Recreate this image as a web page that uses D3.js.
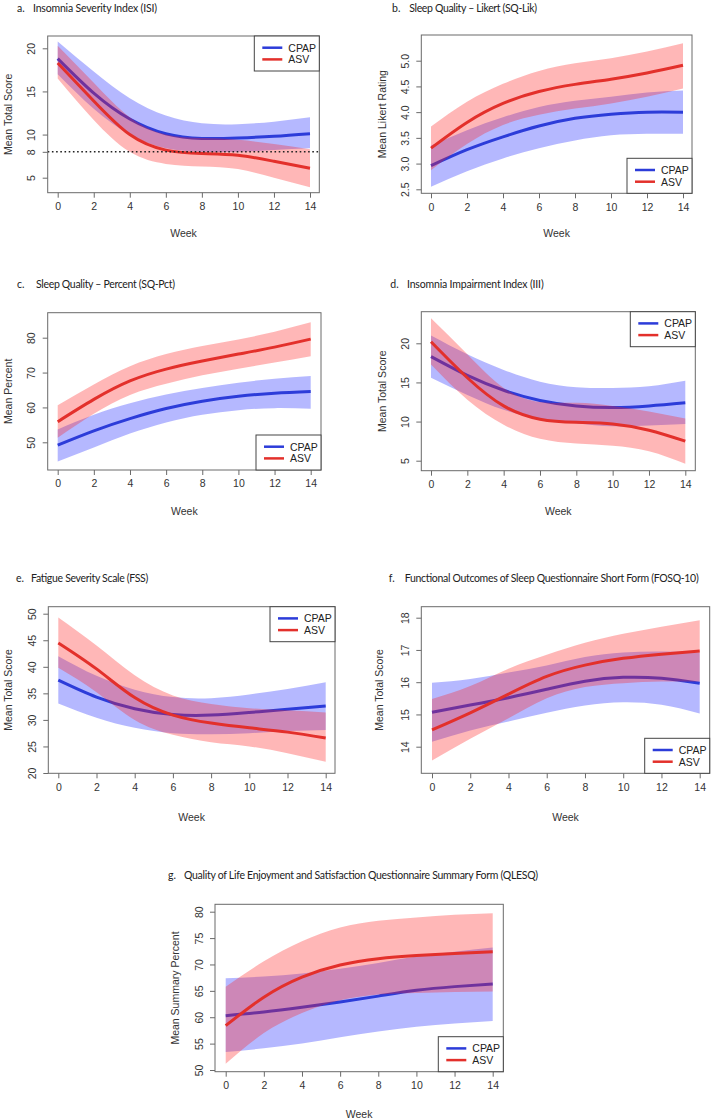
<!DOCTYPE html>
<html><head><meta charset="utf-8">
<script src="https://cdn.jsdelivr.net/npm/d3@7"></script>
<style>
body{margin:0;background:#fff;}
svg{display:block;}
</style></head>
<body>
<svg id="chart" width="714" height="1120"></svg>
<script>
// ---------------- DATA ----------------
const weeks = [0, 2, 4, 6, 8, 10, 12, 14];
const xTicks = [0, 2, 4, 6, 8, 10, 12, 14];
const seriesNames = ["CPAP", "ASV"];

// a. ISI
const isiCpap   = [18.8, 14.8, 11.8, 10.1, 9.55, 9.6, 9.8, 10.1];
const isiCpapLo = [17.0, 13.0, 10.0, 8.4, 8.0, 8.0, 8.2, 8.4];
const isiCpapHi = [20.8, 17.3, 14.2, 12.2, 11.3, 11.2, 11.5, 12.0];
const isiAsv    = [18.3, 13.9, 10.0, 8.2, 7.8, 7.6, 6.9, 6.1];
const isiAsvLo  = [16.5, 11.7, 8.0, 6.6, 6.3, 6.0, 5.0, 3.9];
const isiAsvHi  = [20.3, 16.0, 12.0, 10.0, 9.6, 9.4, 8.9, 8.3];
const isiTicks  = [5, 8, 10, 15, 20];
const isiCutoff = 8;

// b. SQ-Lik
const likCpap   = [2.96, 3.27, 3.52, 3.73, 3.88, 3.96, 4.0, 4.0];
const likCpapLo = [2.55, 2.85, 3.1, 3.3, 3.45, 3.55, 3.58, 3.58];
const likCpapHi = [3.35, 3.65, 3.9, 4.1, 4.22, 4.3, 4.38, 4.42];
const likAsv    = [3.3, 3.8, 4.17, 4.4, 4.54, 4.64, 4.76, 4.91];
const likAsvLo  = [2.87, 3.38, 3.75, 3.95, 4.07, 4.17, 4.3, 4.46];
const likAsvHi  = [3.72, 4.2, 4.55, 4.8, 4.95, 5.05, 5.18, 5.34];
const likTicks  = [2.5, 3.0, 3.5, 4.0, 4.5, 5.0];

// c. SQ-Pct
const pctCpap   = [49.2, 53.3, 56.8, 59.7, 61.8, 63.2, 64.1, 64.6];
const pctCpapLo = [44.5, 48.5, 52.5, 55.7, 57.9, 59.2, 59.8, 59.6];
const pctCpapHi = [53.7, 57.9, 61.2, 63.7, 65.6, 67.1, 68.2, 69.0];
const pctAsv    = [55.9, 62.3, 67.6, 71.0, 73.3, 75.3, 77.3, 79.6];
const pctAsvLo  = [51.3, 58.2, 63.6, 66.8, 69.2, 71.1, 72.9, 74.7];
const pctAsvHi  = [60.6, 66.6, 71.8, 75.3, 77.6, 79.5, 81.7, 84.4];
const pctTicks  = [50, 60, 70, 80];

// d. III
const iiiCpap   = [18.3, 15.9, 14.0, 12.7, 12.0, 11.8, 12.0, 12.4];
const iiiCpapLo = [15.6, 13.4, 11.5, 10.4, 9.8, 9.4, 9.5, 9.7];
const iiiCpapHi = [21.0, 18.6, 16.6, 15.1, 14.4, 14.3, 14.5, 15.2];
const iiiAsv    = [20.2, 15.6, 12.0, 10.3, 9.9, 9.7, 8.9, 7.5];
const iiiAsvLo  = [17.3, 12.8, 9.6, 7.8, 7.2, 6.9, 6.2, 4.6];
const iiiAsvHi  = [23.2, 18.6, 14.3, 12.5, 12.4, 12.0, 11.3, 10.4];
const iiiTicks  = [5, 10, 15, 20];

// e. FSS
const fssCpap   = [37.5, 34.3, 32.1, 31.0, 30.9, 31.4, 32.0, 32.6];
const fssCpapLo = [33.1, 30.4, 28.5, 27.5, 27.3, 27.5, 27.9, 28.1];
const fssCpapHi = [42.0, 38.3, 35.7, 34.3, 34.1, 34.8, 35.8, 37.1];
const fssAsv    = [44.5, 39.6, 34.2, 30.9, 29.4, 28.5, 27.7, 26.6];
const fssAsvLo  = [39.8, 35.2, 30.0, 27.2, 25.8, 25.0, 23.7, 22.1];
const fssAsvHi  = [49.3, 44.0, 38.4, 34.6, 33.0, 32.2, 31.8, 31.4];
const fssTicks  = [20, 25, 30, 35, 40, 45, 50];

// f. FOSQ-10
const fosCpap   = [15.07, 15.29, 15.52, 15.78, 16.03, 16.15, 16.12, 15.97];
const fosCpapLo = [14.15, 14.5, 14.78, 15.05, 15.28, 15.38, 15.3, 15.03];
const fosCpapHi = [15.98, 16.1, 16.3, 16.52, 16.78, 16.92, 16.95, 16.92];
const fosAsv    = [14.52, 15.05, 15.63, 16.18, 16.53, 16.74, 16.87, 16.97];
const fosAsvLo  = [13.57, 14.25, 14.88, 15.5, 15.85, 15.97, 16.02, 16.02];
const fosAsvHi  = [15.48, 15.88, 16.42, 16.85, 17.22, 17.5, 17.72, 17.92];
const fosTicks  = [14, 15, 16, 17, 18];

// g. QLESQ
const qolCpap   = [60.3, 61.0, 61.9, 62.9, 64.0, 65.1, 65.8, 66.3];
const qolCpapLo = [53.4, 54.1, 55.0, 56.2, 57.3, 58.2, 58.8, 59.3];
const qolCpapHi = [67.4, 67.7, 68.3, 69.2, 70.3, 71.5, 72.4, 73.2];
const qolAsv    = [58.4, 63.8, 67.6, 69.9, 71.1, 71.7, 72.1, 72.4];
const qolAsvLo  = [51.2, 57.0, 60.8, 63.2, 64.3, 64.6, 64.8, 64.9];
const qolAsvHi  = [65.8, 70.6, 74.4, 77.0, 78.3, 78.9, 79.4, 79.7];
const qolTicks  = [50, 55, 60, 65, 70, 75, 80];

// ---------------- PANELS (data refs + layout) ----------------
const panels = [
  {letter:"a.", title:"Insomnia Severity Index (ISI)", ylab:"Mean Total Score",
   cpap:[isiCpap,isiCpapLo,isiCpapHi], asv:[isiAsv,isiAsvLo,isiAsvHi], ticks:isiTicks, fmt:d3.format("d"), hline:isiCutoff,
   box:[47.7,36,319.3,192.7], xr:[57.7,310], yr:[177.7,48.3], yd:[5,20], legend:"tr",
   tl:[17,33,8,157], ylx:8, wy:233},
  {letter:"b.", title:"Sleep Quality \u2013 Likert (SQ-Lik)", ylab:"Mean Likert Rating",
   cpap:[likCpap,likCpapLo,likCpapHi], asv:[likAsv,likAsvLo,likAsvHi], ticks:likTicks, fmt:d3.format(".1f"),
   box:[421.3,35,692,193.3], xr:[431,683], yr:[189.3,60.7], yd:[2.5,5.0], legend:"br",
   tl:[392,409.3,8,537], ylx:382, wy:233},
  {letter:"c.", title:"Sleep Quality \u2013 Percent (SQ-Pct)", ylab:"Mean Percent",
   cpap:[pctCpap,pctCpapLo,pctCpapHi], asv:[pctAsv,pctAsvLo,pctAsvHi], ticks:pctTicks, fmt:d3.format("d"),
   box:[47.7,312.7,321,470], xr:[57.7,310.7], yr:[442.3,337.7], yd:[50,80], legend:"br",
   tl:[17,36,284,175], ylx:8, wy:510.7},
  {letter:"d.", title:"Insomnia Impairment Index (III)", ylab:"Mean Total Score",
   cpap:[iiiCpap,iiiCpapLo,iiiCpapHi], asv:[iiiAsv,iiiAsvLo,iiiAsvHi], ticks:iiiTicks, fmt:d3.format("d"),
   box:[421.3,311.7,695.3,470.7], xr:[431,685.3], yr:[460.7,343.3], yd:[5,20], legend:"tr",
   tl:[390.3,407,284,543.7], ylx:382, wy:510.7},
  {letter:"e.", title:"Fatigue Severity Scale (FSS)", ylab:"Mean Total Score",
   cpap:[fssCpap,fssCpapLo,fssCpapHi], asv:[fssAsv,fssAsvLo,fssAsvHi], ticks:fssTicks, fmt:d3.format("d"),
   box:[48.3,606.7,335,773.3], xr:[58.3,325.7], yr:[773,613.7], yd:[20,50], legend:"tr",
   tl:[16,31,577.5,148.3], ylx:8.3, wy:816.7},
  {letter:"f.", title:"Functional Outcomes of Sleep Questionnaire Short Form (FOSQ-10)", ylab:"Mean Total Score",
   cpap:[fosCpap,fosCpapLo,fosCpapHi], asv:[fosAsv,fosAsvLo,fosAsvHi], ticks:fosTicks, fmt:d3.format("d"),
   box:[421.3,606.7,709.7,773.3], xr:[432,699.7], yr:[746.7,617.7], yd:[14,18], legend:"br",
   tl:[388.7,404.7,577.5,698.7], ylx:379.3, wy:816.7},
  {letter:"g.", title:"Quality of Life Enjoyment and Satisfaction Questionnaire Summary Form (QLESQ)", ylab:"Mean Summary Percent",
   cpap:[qolCpap,qolCpapLo,qolCpapHi], asv:[qolAsv,qolAsvLo,qolAsvHi], ticks:qolTicks, fmt:d3.format("d"),
   box:[215,904.3,503.3,1071.7], xr:[225.7,492.7], yr:[1070,911.7], yd:[50,80], legend:"br",
   tl:[168,184,875,538], ylx:175, wy:1114}
];

const COL = {cpapLine:"#2c3cd9", asvLine:"#e3302b", cpapBand:"rgba(30,40,255,0.33)", asvBand:"rgba(255,30,30,0.32)",
             axis:"#6a6a6a", text:"#333"};
const FONT = "'Liberation Sans', Arial, sans-serif";
const TFONT = "Lato, 'Open Sans', sans-serif";

const svg = d3.select("#chart");

panels.forEach(p => {
  const g = svg.append("g");
  const [L, T, R, B] = p.box;
  const x = d3.scaleLinear().domain([0, 14]).range(p.xr);
  const y = d3.scaleLinear().domain(p.yd).range(p.yr);

  const clipId = "clip" + p.letter[0];
  g.append("clipPath").attr("id", clipId).append("rect")
    .attr("x", L).attr("y", T).attr("width", R - L).attr("height", B - T);
  const plot = g.append("g").attr("clip-path", `url(#${clipId})`);

  const area = d3.area().x((d, i) => x(weeks[i])).y0(d => y(d[0])).y1(d => y(d[1])).curve(d3.curveNatural);
  const line = d3.line().x((d, i) => x(weeks[i])).y(d => y(d)).curve(d3.curveNatural);
  const band = s => s[1].map((v, i) => [v, s[2][i]]);

  plot.append("path").datum(band(p.cpap)).attr("d", area).attr("fill", COL.cpapBand);
  plot.append("path").datum(p.cpap[0]).attr("d", line).attr("fill", "none")
    .attr("stroke", COL.cpapLine).attr("stroke-width", 3);
  plot.append("path").datum(band(p.asv)).attr("d", area).attr("fill", COL.asvBand);
  plot.append("path").datum(p.asv[0]).attr("d", line).attr("fill", "none")
    .attr("stroke", COL.asvLine).attr("stroke-width", 3);

  if (p.hline !== undefined) {
    plot.append("line").attr("x1", L).attr("x2", R).attr("y1", y(p.hline)).attr("y2", y(p.hline))
      .attr("stroke", "#222").attr("stroke-width", 1.6).attr("stroke-dasharray", "1.6,2.6");
  }

  // box
  g.append("rect").attr("x", L).attr("y", T).attr("width", R - L).attr("height", B - T)
    .attr("fill", "none").attr("stroke", COL.axis).attr("stroke-width", 1);

  // x axis
  const xa = g.append("g").attr("transform", `translate(0,${B})`)
    .call(d3.axisBottom(x).tickValues(xTicks).tickSize(5).tickPadding(5).tickFormat(d3.format("d")));
  xa.select(".domain").remove();
  xa.selectAll("line").attr("stroke", COL.axis);
  xa.selectAll("text").attr("font-family", FONT).attr("font-size", 10.5).attr("fill", COL.text);

  // y axis
  const ya = g.append("g").attr("transform", `translate(${L},0)`)
    .call(d3.axisLeft(y).tickValues(p.ticks).tickSize(5).tickFormat(p.fmt));
  ya.select(".domain").remove();
  ya.selectAll("line").attr("stroke", COL.axis);
  ya.selectAll("text").attr("font-family", FONT).attr("font-size", 10.5).attr("fill", COL.text)
    .attr("x", null).attr("dy", null)
    .attr("text-anchor", "middle").attr("dominant-baseline", "central")
    .attr("transform", "translate(-16.5,0) rotate(-90)");

  // axis labels
  g.append("text").attr("x", (L + R) / 2).attr("y", p.wy).attr("text-anchor", "middle")
    .attr("dominant-baseline", "central").attr("font-family", FONT).attr("font-size", 10.5)
    .attr("fill", COL.text).text("Week");
  g.append("text").attr("transform", `translate(${p.ylx},${(T + B) / 2}) rotate(-90)`)
    .attr("text-anchor", "middle").attr("dominant-baseline", "central")
    .attr("font-family", FONT).attr("font-size", 10.5).attr("fill", COL.text).text(p.ylab);

  // title (spacing fitted to the reference width)
  g.append("text").attr("x", p.tl[0]).attr("y", p.tl[2]).attr("dominant-baseline", "central")
    .attr("font-family", TFONT).attr("font-size", 10.5).attr("fill", "#222").text(p.letter);
  g.append("text").attr("x", p.tl[1]).attr("y", p.tl[2]).attr("dominant-baseline", "central")
    .attr("font-family", TFONT).attr("font-size", 10.5).attr("fill", "#222")
    .attr("textLength", p.tl[3] - p.tl[1]).attr("lengthAdjust", "spacing").text(p.title);

  // legend
  const lw = 65, lh = 35;
  const lx = R - lw, ly = p.legend === "tr" ? T : B - lh;
  const lg = g.append("g").attr("transform", `translate(${lx},${ly})`);
  lg.append("rect").attr("width", lw).attr("height", lh).attr("fill", "#fff")
    .attr("stroke", "#444").attr("stroke-width", 1);
  seriesNames.forEach((s, i) => {
    const yy = 11.7 + i * 11.7;
    lg.append("line").attr("x1", 8).attr("x2", 28).attr("y1", yy).attr("y2", yy)
      .attr("stroke", i === 0 ? COL.cpapLine : COL.asvLine).attr("stroke-width", 2.5);
    lg.append("text").attr("x", 34).attr("y", yy).attr("dominant-baseline", "central")
      .attr("font-family", FONT).attr("font-size", 10.5).attr("fill", "#222").text(s);
  });
});
</script>
</body></html>
